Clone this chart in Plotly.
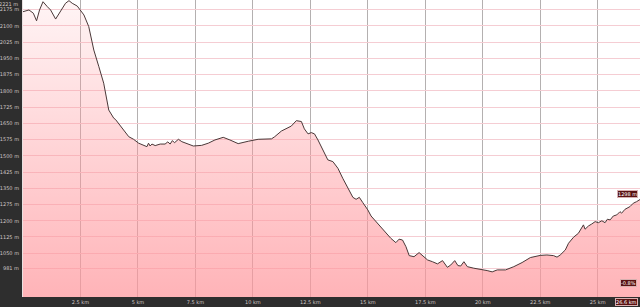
import plotly.graph_objects as go

distance_km = [0.0, 0.26, 0.45, 0.59, 0.72, 0.87, 1.06, 1.20, 1.42, 1.56, 1.78, 1.85, 2.00, 2.14, 2.36,
               2.50, 2.65, 2.86, 3.08, 3.30, 3.51, 3.73, 3.95, 4.02, 4.31, 4.60, 4.81, 5.03, 5.39, 5.46,
               5.53, 5.61, 5.75, 5.97, 6.18, 6.30, 6.40, 6.50, 6.59, 6.76, 6.91, 7.20, 7.41, 7.77, 8.06,
               8.35, 8.71, 9.00, 9.36, 9.80, 10.23, 10.81, 10.95, 11.24, 11.67, 11.89, 12.11, 12.24, 12.40,
               12.54, 12.68, 12.83, 13.05, 13.26, 13.48, 13.70, 13.91, 14.13, 14.35, 14.49, 14.63, 14.78,
               15.00, 15.14, 15.43, 15.72, 16.00, 16.22, 16.36, 16.51, 16.66, 16.80, 17.01, 17.23, 17.45,
               17.60, 17.81, 18.03, 18.25, 18.46, 18.61, 18.78, 18.92, 19.04, 19.18, 19.33, 19.61, 19.98,
               20.19, 20.41, 20.63, 20.99, 21.35, 21.71, 22.07, 22.50, 22.79, 23.08, 23.23, 23.37, 23.59,
               23.73, 23.95, 24.16, 24.31, 24.38, 24.45, 24.60, 24.74, 24.89, 25.03, 25.18, 25.32, 25.42,
               25.54, 25.68, 25.83, 25.97, 26.04, 26.19, 26.40, 26.55, 26.69, 26.84]
elevation_m = [2165, 2173, 2158, 2123, 2173, 2211, 2188, 2173, 2131, 2154, 2196, 2204, 2216, 2204, 2191,
               2173, 2150, 2096, 1988, 1911, 1835, 1711, 1673, 1668, 1627, 1588, 1576, 1558, 1542, 1558,
               1545, 1554, 1547, 1554, 1554, 1564, 1554, 1570, 1560, 1576, 1565, 1553, 1545, 1548, 1558,
               1573, 1585, 1573, 1556, 1567, 1576, 1578, 1588, 1614, 1637, 1662, 1658, 1624, 1601,
               1607, 1601, 1573, 1527, 1481, 1473, 1442, 1396, 1350, 1308, 1299, 1308, 1284,
               1250, 1222, 1188, 1150, 1119, 1099, 1115, 1111, 1080, 1039, 1034, 1053, 1030,
               1019, 1011, 1001, 1016, 985, 996, 1016, 993, 991, 1011, 988, 981, 976,
               970, 964, 973, 973, 988, 1007, 1030, 1040, 1042, 1039, 1032, 1042, 1065,
               1096, 1124, 1142, 1173, 1181, 1161, 1176, 1185, 1196, 1191, 1200, 1191, 1207,
               1204, 1222, 1227, 1242, 1235, 1253, 1265, 1281, 1288, 1298]

x_tick_vals = [2.5, 5, 7.5, 10, 12.5, 15, 17.5, 20, 22.5, 25]
x_tick_text = ["2.5 km", "5 km", "7.5 km", "10 km", "12.5 km", "15 km", "17.5 km", "20 km", "22.5 km", "25 km"]
y_tick_vals = [981, 1050, 1125, 1200, 1275, 1350, 1425, 1500, 1575, 1650, 1725, 1800, 1875, 1950, 2025, 2100, 2175]
y_tick_text = ["981 m", "1050 m", "1125 m", "1200 m", "1275 m", "1350 m", "1425 m", "1500 m", "1575 m",
               "1650 m", "1725 m", "1800 m", "1875 m", "1950 m", "2025 m", "2100 m", "2175 m"]
max_label = "2221 m"
end_elev_label = "1298 m"
end_dist_label = "26.6 km"
grade_label = "-0.8%"

y_min, y_max = 848, 2219
x_max = 26.84

fig = go.Figure()
fig.add_trace(go.Scatter(
    x=distance_km, y=elevation_m, mode="lines",
    line=dict(color="#4a3838", width=1),
    fill="tozeroy",
    fillgradient=dict(type="vertical", start=y_min, stop=y_max,
                      colorscale=[[0, "rgba(255,150,156,0.72)"], [1, "rgba(255,150,156,0.10)"]]),
    hoverinfo="skip", showlegend=False,
))

lab_font = dict(family="DejaVu Sans", size=5, color="#cfc6c6")
box_font = dict(family="DejaVu Sans", size=5, color="#ffffff")

fig.update_layout(
    width=640, height=307,
    margin=dict(l=21, r=0, t=0, b=10),
    paper_bgcolor="#2e2e2e",
    plot_bgcolor="#ffffff",
    xaxis=dict(range=[0, x_max], tickvals=x_tick_vals, ticktext=x_tick_text,
               showgrid=True, gridcolor="#b4b0b0", gridwidth=1, zeroline=False,
               tickfont=lab_font, ticks="", ticklabelstandoff=1, fixedrange=True),
    yaxis=dict(range=[y_min, y_max], tickvals=y_tick_vals, ticktext=y_tick_text,
               showgrid=True, gridcolor="#f5cdd3", gridwidth=1, zeroline=False,
               tickfont=lab_font, ticks="", ticklabelstandoff=2,
               showline=True, linecolor="#e8e0e0", linewidth=1, fixedrange=True),
    annotations=[
        dict(text=max_label, xref="paper", yref="paper", x=0, y=1, xanchor="right", yanchor="top",
             xshift=-3, yshift=1, showarrow=False, font=lab_font),
        dict(text=end_elev_label, xref="paper", yref="y", x=1, y=elevation_m[-1],
             xanchor="right", yanchor="bottom", xshift=-2, yshift=2, showarrow=False,
             font=box_font, bgcolor="#5a1212", bordercolor="#d8b0b0", borderwidth=1, borderpad=0),
        dict(text=grade_label, xref="paper", yref="paper", x=1, y=0.047,
             xanchor="right", yanchor="middle", xshift=-3, showarrow=False,
             font=box_font, bgcolor="#5a1212", bordercolor="#d8b0b0", borderwidth=1, borderpad=0),
        dict(text=end_dist_label, xref="paper", yref="paper", x=1, y=0,
             xanchor="right", yanchor="top", xshift=-2, yshift=-1, showarrow=False,
             font=box_font, bgcolor="#5a1212", bordercolor="#d8b0b0", borderwidth=1, borderpad=0),
    ],
)

fig.write_html("out.html")
